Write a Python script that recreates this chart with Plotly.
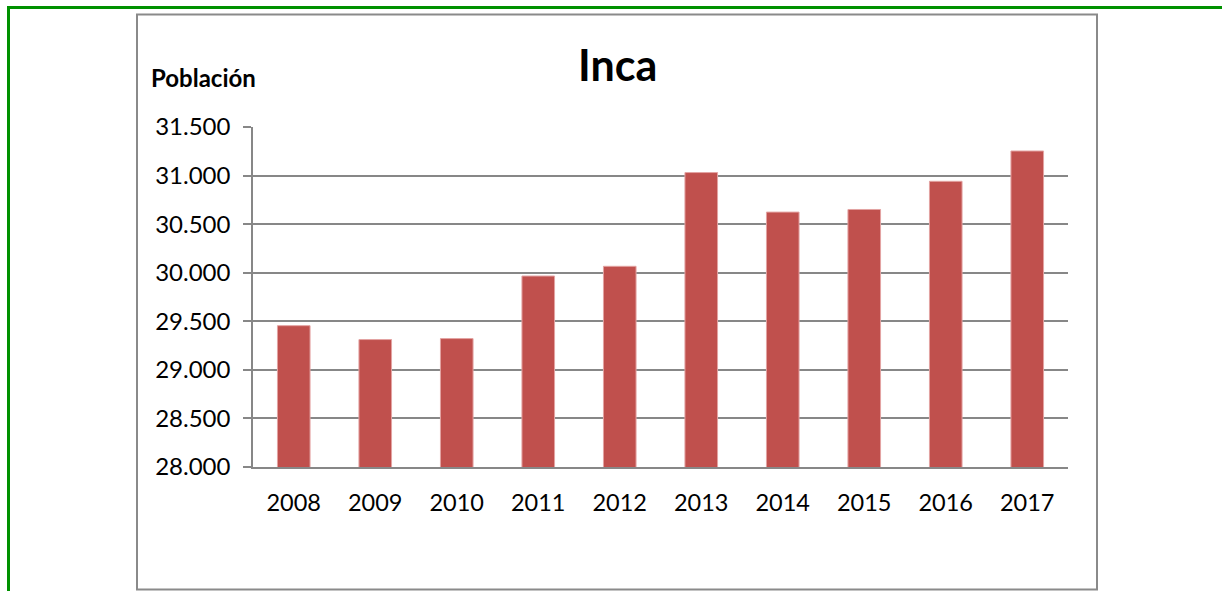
import plotly.graph_objects as go

years = ["2008", "2009", "2010", "2011", "2012", "2013", "2014", "2015", "2016", "2017"]
poblacion = [29455, 29312, 29322, 29966, 30066, 31031, 30624, 30651, 30941, 31253]
y_ticks = [28000, 28500, 29000, 29500, 30000, 30500, 31000, 31500]
title_text = "Inca"
y_label = "Población"

W, H = 1222, 591
L, R, T, B = 253, 1068, 127, 467


def px(x):
    return (x - L) / (R - L)


def py(y):
    return (B - y) / (B - T)


FONT = "Lato"
GRID = "#878787"

fig = go.Figure(
    go.Bar(
        x=years,
        y=poblacion,
        marker=dict(color="#C0504D", line=dict(color="#E3A3A2", width=1)),
        width=0.4,
    )
)

fig.update_layout(
    width=W,
    height=H,
    margin=dict(l=L, r=W - R, t=T, b=H - B, pad=0),
    paper_bgcolor="white",
    plot_bgcolor="white",
    separators=",.",
    showlegend=False,
    font=dict(family=FONT, size=24, color="black"),
    xaxis=dict(
        showline=True,
        linecolor=GRID,
        linewidth=1.5,
        ticks="",
        showgrid=False,
        tickfont=dict(family=FONT, size=23.5, color="black"),
        ticklabelstandoff=14,
    ),
    yaxis=dict(
        range=[28000, 31500],
        tickvals=y_ticks,
        tickformat=",",
        showline=True,
        linecolor=GRID,
        linewidth=1.5,
        ticks="outside",
        ticklen=8,
        tickcolor=GRID,
        tickwidth=1.5,
        showgrid=True,
        gridcolor=GRID,
        gridwidth=1.5,
        zeroline=False,
        tickfont=dict(family=FONT, size=24, color="black"),
        ticklabelstandoff=8,
    ),
    shapes=[
        dict(type="line", xref="paper", yref="paper",
             x0=px(7), x1=px(1230), y0=py(7.5), y1=py(7.5),
             line=dict(color="#009100", width=3)),
        dict(type="line", xref="paper", yref="paper",
             x0=px(8.5), x1=px(8.5), y0=py(6), y1=py(600),
             line=dict(color="#009100", width=3)),
        dict(type="rect", xref="paper", yref="paper",
             x0=px(137), x1=px(1097), y0=py(14.5), y1=py(589.5),
             line=dict(color="#8a8a8a", width=2), fillcolor="rgba(0,0,0,0)"),
    ],
    annotations=[
        dict(text="<b>" + title_text + "</b>", xref="paper", yref="paper",
             x=px(617), y=py(64), xanchor="center", yanchor="middle",
             showarrow=False, font=dict(family=FONT, size=43, color="black")),
        dict(text="<b>" + y_label + "</b>", xref="paper", yref="paper",
             x=px(149), y=py(77), xanchor="left", yanchor="middle",
             showarrow=False, font=dict(family=FONT, size=24, color="black")),
    ],
)

fig.write_html("out.html", config={"displayModeBar": False},
               post_script="document.body.style.margin='0';")
